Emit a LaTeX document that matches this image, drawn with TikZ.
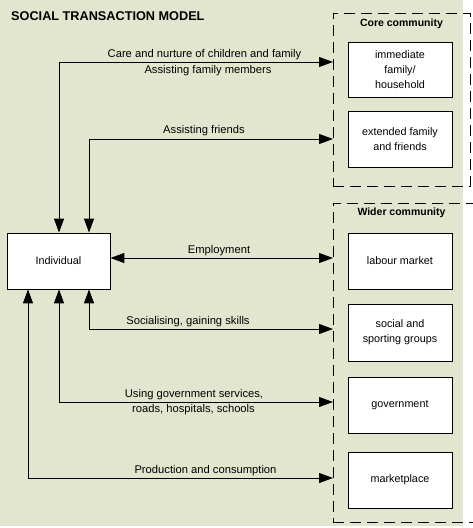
\documentclass[tikz,border=0pt]{standalone}
\usepackage{fontspec}
\setmainfont{Liberation Sans}
\usetikzlibrary{arrows.meta}
\definecolor{bgc}{RGB}{226,230,206}
\begin{document}
\begin{tikzpicture}[x=1pt,y=-1pt,
  box/.style={draw=black,line width=0.8pt,fill=white,minimum width=104pt,minimum height=56pt,inner sep=0pt,align=center,font=\fontsize{10.8}{15}\selectfont},
  grp/.style={draw=black,line width=0.8pt,dash pattern=on 11pt off 6pt,inner sep=0pt},
  lbl/.style={inner sep=0pt,font=\fontsize{11.2}{15}\selectfont,align=center},
  hd/.style={inner sep=0pt,font=\fontsize{10.5}{13}\selectfont\bfseries},
  conn2/.style={line width=1pt,{Triangle[length=14pt,width=10pt]}-{Triangle[length=14pt,width=10pt]}}]
\useasboundingbox (0,0) rectangle (472,528);
\fill[bgc] (0,0) rectangle (463,526);
% title
\node[anchor=west,inner sep=0pt,font=\fontsize{12.7}{14}\selectfont\bfseries] (title) at (11,16) {SOCIAL TRANSACTION MODEL};
% group boxes
\node[grp,minimum width=137pt,minimum height=173pt] (core) at (401.5,99.5) {};
\node[grp,minimum width=142pt,minimum height=319pt] (wider) at (404,362.5) {};
\node[hd] (coret) at (401.5,23.5) {Core community};
\node[hd] (widert) at (401.5,213) {Wider community};
% boxes
\node[box,minimum height=55pt] (fam) at (400,69.5) {immediate\\family/\\household};
\node[box] (ext) at (400,139) {extended family\\and friends};
\node[box] (lab) at (400,261) {labour market};
\node[box,minimum height=57pt] (soc) at (400,332.5) {social and\\sporting groups};
\node[box] (gov) at (400,405) {government};
\node[box] (mkt) at (400,480) {marketplace};
\node[box,minimum width=103pt] (ind) at (58.5,261) {Individual};
% coordinates
\coordinate (x28) at (28,0);
\coordinate (x59) at (59,0);
\coordinate (x89) at (89,0);
\coordinate (e1) at (333,62);
\coordinate (e2) at (333,139);
\coordinate (e3) at (333,258);
\coordinate (e4) at (333,329);
\coordinate (e5) at (333,402);
\coordinate (e6) at (333,478);
% connectors
\draw[conn2] (ind.north -| x59) |- (e1);
\draw[conn2] (ind.north -| x89) |- (e2);
\draw[conn2] (ind.east |- e3) -- (e3);
\draw[conn2] (ind.south -| x89) |- (e4);
\draw[conn2] (ind.south -| x59) |- (e5);
\draw[conn2] (ind.south -| x28) |- (e6);
% labels
\node[lbl] (l1a) at (204.5,55) {Care and nurture of children and family};
\node[lbl] (l1b) at (208,70.5) {Assisting family members};
\node[lbl] (l2) at (204,131) {Assisting friends};
\node[lbl] (l3) at (219,251) {Employment};
\node[lbl] (l4) at (188,322) {Socialising, gaining skills};
\node[lbl] (l5a) at (194,395) {Using government services,};
\node[lbl] (l5b) at (193.5,410) {roads, hospitals, schools};
\node[lbl] (l6) at (205.5,470.5) {Production and consumption};
\end{tikzpicture}
\end{document}
